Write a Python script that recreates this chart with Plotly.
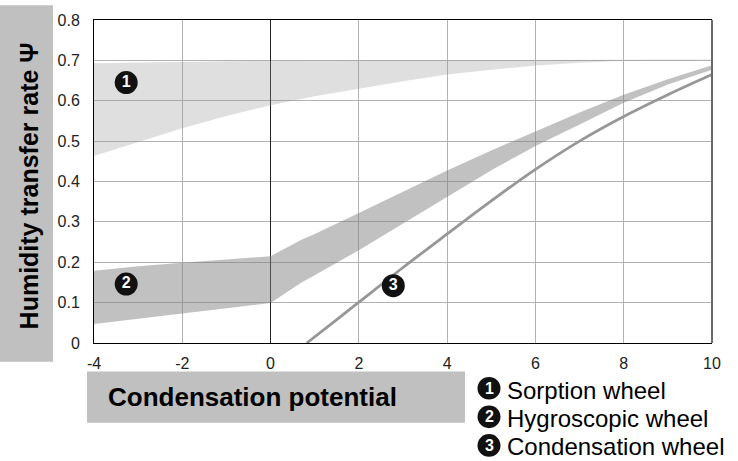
import plotly.graph_objects as go

# ---- data ----
sorption_x = [-4, -3, -2, -1, 0, 1, 2, 3, 4, 5, 6, 7, 8, 9, 10]
sorption_upper = [0.693, 0.695, 0.697, 0.698, 0.699, 0.700, 0.700, 0.701, 0.701, 0.701, 0.702, 0.702, 0.702, 0.702, 0.702]
sorption_lower = [0.463, 0.497, 0.532, 0.562, 0.589, 0.611, 0.630, 0.648, 0.665, 0.677, 0.687, 0.694, 0.699, 0.700, 0.701]

hygro_x = [-4, -3, -2, -1, 0, 0.7, 1, 2, 3, 4, 5, 6, 7, 8, 9, 10]
hygro_upper = [0.179, 0.190, 0.199, 0.207, 0.215, 0.256, 0.270, 0.322, 0.375, 0.427, 0.477, 0.524, 0.571, 0.615, 0.653, 0.688]
hygro_lower = [0.047, 0.061, 0.073, 0.086, 0.099, 0.150, 0.168, 0.230, 0.297, 0.362, 0.428, 0.488, 0.541, 0.595, 0.640, 0.677]

cond_x = [0.82, 1.5, 2, 3, 4, 5, 6, 7, 8, 9, 10]
cond_y = [0.0, 0.058, 0.101, 0.187, 0.270, 0.352, 0.430, 0.500, 0.561, 0.615, 0.665]

label_x = [-3.27, -3.27, 2.78]
label_y = [0.645, 0.146, 0.142]
label_txt = ["1", "2", "3"]

x_ticks = [-4, -2, 0, 2, 4, 6, 8, 10]
y_ticks = [0, 0.1, 0.2, 0.3, 0.4, 0.5, 0.6, 0.7, 0.8]
y_ticktext = ["0", "0.1", "0.2", "0.3", "0.4", "0.5", "0.6", "0.7", "0.8"]

legend_nums = ["1", "2", "3"]
legend_names = ["Sorption wheel", "Hygroscopic wheel", "Condensation wheel"]

# ---- geometry ----
W, H = 738, 461
L, R, T, B = 94, 26, 15, 118
pw, ph = W - L - R, H - T - B
X0, X1, Y0, Y1 = -4, 10, 0, 0.8


def px(xpix):
    return (xpix - L) / pw


def py(ypix):
    return (H - B - ypix) / ph


# ---- figure ----
fig = go.Figure()

fig.add_trace(go.Scatter(
    x=sorption_x + sorption_x[::-1],
    y=sorption_upper + sorption_lower[::-1],
    fill="toself", fillcolor="rgba(150,150,150,0.30)",
    line=dict(width=0), mode="lines", hoverinfo="skip", showlegend=False))

fig.add_trace(go.Scatter(
    x=hygro_x + hygro_x[::-1],
    y=hygro_upper + hygro_lower[::-1],
    fill="toself", fillcolor="rgba(125,125,125,0.48)",
    line=dict(width=0), mode="lines", hoverinfo="skip", showlegend=False))

fig.add_trace(go.Scatter(
    x=cond_x, y=cond_y, mode="lines",
    line=dict(color="#979797", width=2.8, shape="spline"),
    hoverinfo="skip", showlegend=False))

fig.add_trace(go.Scatter(
    x=label_x, y=label_y, mode="markers+text",
    marker=dict(size=23, color="#111111"),
    text=label_txt, textposition="middle center",
    textfont=dict(family="Liberation Sans", size=16, color="white", weight="bold"),
    hoverinfo="skip", showlegend=False))

shapes = [
    dict(type="rect", xref="paper", yref="paper", x0=px(0), x1=px(53), y0=py(362), y1=py(0),
         fillcolor="#c0c0c0", line=dict(width=0), layer="below"),
    dict(type="rect", xref="paper", yref="paper", x0=px(87), x1=px(465), y0=py(424), y1=py(372),
         fillcolor="#c0c0c0", line=dict(width=0), layer="below"),
    dict(type="line", xref="paper", yref="paper", x0=1, x1=1, y0=0, y1=1,
         line=dict(color="#6a6a6a", width=2)),
]

annotations = [
    dict(xref="paper", yref="paper", x=px(29), y=py(184), text="Humidity transfer rate \u03a8",
         textangle=-90, showarrow=False, xanchor="center", yanchor="middle",
         font=dict(family="Liberation Sans", size=25, color="black", weight="bold")),
    dict(xref="paper", yref="paper", x=px(106), y=py(398), text="Condensation potential",
         showarrow=False, xanchor="left", yanchor="middle",
         font=dict(family="Liberation Sans", size=26, color="black", weight="bold")),
]

# legend: black badges with white digits + names
badge_cx, badge_r = 489, 11.5
badge_cy = [389, 418, 447]
leg_text_y = [391, 420, 448]
for num, name, cy, ty in zip(legend_nums, legend_names, badge_cy, leg_text_y):
    shapes.append(dict(type="circle", xref="paper", yref="paper",
                       x0=px(badge_cx - badge_r), x1=px(badge_cx + badge_r),
                       y0=py(cy + badge_r), y1=py(cy - badge_r),
                       fillcolor="#111111", line=dict(width=0)))
    annotations.append(dict(xref="paper", yref="paper", x=px(badge_cx), y=py(cy), text=num,
                            showarrow=False, xanchor="center", yanchor="middle",
                            font=dict(family="Liberation Sans", size=16, color="white", weight="bold")))
    annotations.append(dict(xref="paper", yref="paper", x=px(505), y=py(ty), text=name,
                            showarrow=False, xanchor="left", yanchor="middle",
                            font=dict(family="Liberation Sans", size=24, color="black")))

fig.update_layout(
    width=W, height=H,
    margin=dict(l=L, r=R, t=T, b=B, pad=0),
    paper_bgcolor="white", plot_bgcolor="white",
    shapes=shapes, annotations=annotations,
    xaxis=dict(range=[X0, X1], tickvals=x_ticks, ticktext=[str(v) for v in x_ticks],
               showgrid=True, gridcolor="#b2b2b2", gridwidth=1,
               zeroline=True, zerolinecolor="#222222", zerolinewidth=1,
               showline=True, linecolor="black", linewidth=1, mirror=True,
               ticks="", ticklabelstandoff=6,
               tickfont=dict(family="Liberation Sans", size=16, color="#222222")),
    yaxis=dict(range=[Y0, Y1], tickvals=y_ticks, ticktext=y_ticktext,
               showgrid=True, gridcolor="#b2b2b2", gridwidth=1,
               zeroline=False,
               showline=True, linecolor="black", linewidth=1, mirror=False,
               ticks="", ticklabelstandoff=10,
               tickfont=dict(family="Liberation Sans", size=16, color="#222222")),
)

fig.write_html("out.html", config={"displayModeBar": False},
               post_script="document.body.style.margin='0';document.body.style.overflow='hidden';")
